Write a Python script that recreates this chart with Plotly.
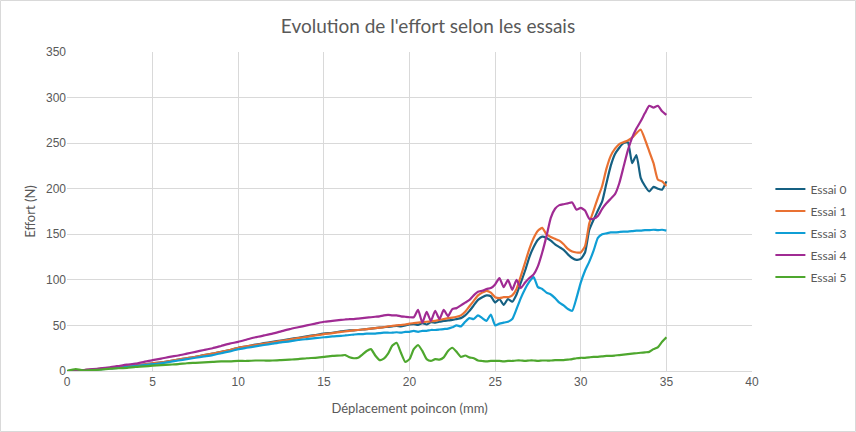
import plotly.graph_objects as go

x = [0, 0.5, 1, 1.5, 2, 2.5, 3, 3.5, 4, 4.5, 5, 5.5, 6, 6.5, 7, 7.5, 8, 8.5, 9, 9.5,
     10, 10.5, 11, 11.5, 12, 12.5, 13, 13.5, 14, 14.5, 15, 15.5,
     16, 16.25, 16.5, 16.75, 17, 17.25, 17.5, 17.75, 18, 18.25, 18.5, 18.75,
     19, 19.25, 19.5, 19.75, 20, 20.25, 20.5, 20.75, 21, 21.25, 21.5, 21.75,
     22, 22.25, 22.5, 22.75, 23, 23.25, 23.5, 23.75, 24, 24.25, 24.5, 24.75,
     25, 25.25, 25.5, 25.75, 26, 26.25, 26.5, 26.75, 27, 27.25, 27.5, 27.75,
     28, 28.25, 28.5, 28.75, 29, 29.25, 29.5, 29.75, 30, 30.25, 30.5, 30.75,
     31, 31.25, 31.5, 31.75, 32, 32.25, 32.5, 32.75, 33, 33.25, 33.5, 33.75,
     34, 34.25, 34.5, 34.75, 35]

essai0 = [0, 0.5, 1, 1.5, 2.5, 3, 4, 5, 6, 7, 8.5, 9.5, 11, 12.5, 14, 15.5, 17.5, 19, 21, 23,
          25.5, 27, 29, 30.5, 32, 33.5, 35, 36.5, 38, 39.5, 41, 42,
          43.5, 44, 44.5, 44.5, 45, 45.5, 46, 46.5, 47, 47.5, 48, 48.5,
          49, 49.5, 49, 50, 51, 51.5, 50.5, 52.5, 51, 53.5, 53, 54,
          55, 55.5, 56, 57, 58, 61, 66, 72, 78, 81, 83, 82,
          75, 79, 72.5, 79, 76, 84, 97, 110, 125, 136, 144, 147.5,
          146, 143, 139, 136, 133, 128, 124, 122, 123, 130, 155, 166,
          176, 186, 206, 225, 238, 245, 250, 251, 228, 237, 212, 203,
          197, 202, 200, 199, 208]

essai1 = [0, 0.5, 1, 1.5, 2.5, 3, 4, 5, 6, 7, 8.5, 9.5, 11, 12.5, 14, 15.5, 17.5, 19, 21, 23,
          25.5, 27, 28.5, 30, 31.5, 33, 34.5, 36, 37.5, 39, 40.5, 41.5,
          43, 43.5, 44, 44.5, 45, 45.5, 46, 46.5, 47, 47.5, 48, 49,
          49.5, 50, 50.5, 51, 52, 52.5, 53, 53.5, 54, 54.5, 55, 56,
          57, 58, 58.5, 59.5, 61, 65, 71, 77, 83, 86, 88, 86,
          81, 80, 81, 81, 83, 90, 104, 119, 134, 146, 154, 157,
          150, 147, 145, 143, 139, 134, 131, 130, 130, 137, 162, 176,
          190, 203, 222, 236, 244, 249, 251, 253, 256, 261, 265, 254,
          241, 228, 210, 208, 203]

essai3 = [0, 0.3, 0.8, 1.3, 2, 2.8, 3.5, 4.5, 5.5, 6.5, 7.5, 8.5, 10, 11.5, 13, 14.5, 16, 17.5, 19.5, 21.5,
          24, 25.5, 27, 28.5, 30, 31.5, 32.5, 34, 35, 36, 37, 38,
          38.5, 39, 39.5, 40, 40.5, 40.5, 41, 41, 41, 41.5, 42, 42,
          42, 42.5, 42, 43, 43, 44, 43, 44, 44, 45, 45, 45.5,
          46, 46.5, 48, 50, 49, 54, 58, 57, 61, 58, 55, 62,
          50, 52, 53, 54, 57, 68, 80, 90, 98, 103, 92, 90,
          86, 84, 80, 75, 72, 68, 66, 80, 97, 110, 120, 132,
          146, 150, 151, 152, 152, 152.5, 153, 153, 153.5, 154, 154, 154.5,
          154.5, 155, 154.5, 155, 154]

essai4 = [0, 0.5, 1, 2, 3, 4, 5.5, 7, 8, 10, 12, 13.5, 15.5, 17, 19, 21, 23, 25, 27.5, 30,
          32, 34.5, 37, 39, 41, 43.5, 46, 48, 50, 52, 54, 55,
          56, 56.5, 57, 57, 57.5, 58, 58.5, 59, 59.5, 60, 61, 61.5,
          61, 61, 60, 59.5, 59, 59, 67, 53, 65, 55, 66, 57,
          67, 60, 68, 69, 72, 75, 78, 83, 87, 88, 90, 91,
          95, 102, 92, 100, 89, 100, 91, 97, 102, 106, 115, 130,
          148, 168, 178, 182, 183, 184, 185, 177, 179, 176, 167, 167,
          170, 178, 184, 189, 194, 206, 224, 242, 256, 266, 274, 283,
          291, 289, 291, 285, 281]

essai5 = [0, 2, 0.5, 1, 1.5, 2.5, 3, 3.5, 4.5, 5, 5.8, 6.5, 7, 7.5, 8.5, 9, 9.5, 10, 10.5, 10.5,
          11, 11, 11.5, 11.5, 11.5, 12, 12.5, 13, 14, 14.5, 15.5, 16.5,
          17, 17.5, 15, 14, 14.5, 18, 22, 24, 17, 12, 13.5, 19,
          28, 31, 20, 10, 13, 24, 28.5, 22, 13, 11, 13, 12.5,
          15, 22, 25.5, 21, 15.5, 17, 15, 14, 11.5, 11, 10.5, 11,
          11, 11, 10.5, 11, 11, 11.5, 11.5, 11, 11.5, 11.5, 11, 11.5,
          11.5, 11.5, 12, 12, 12, 12.5, 13, 14, 14.5, 14.5, 15, 15.5,
          15.5, 16, 16.5, 16.5, 17, 17.5, 18, 18.5, 19, 19.5, 20, 20.5,
          21, 24, 26, 32, 37]

series = [
    ("Essai 0", essai0, "#156082"),
    ("Essai 1", essai1, "#E97132"),
    ("Essai 3", essai3, "#0F9ED5"),
    ("Essai 4", essai4, "#A02B93"),
    ("Essai 5", essai5, "#4EA72E"),
]

fig = go.Figure()
for name, ys, col in series:
    fig.add_trace(go.Scatter(
        x=x, y=ys, name=name, mode="lines", legendgroup=name,
        line=dict(color=col, width=2.2, shape="spline", smoothing=0.5),
    ))

grey = "#595959"
fig.update_layout(
    width=856, height=432,
    margin=dict(l=67, r=104, t=52, b=61, autoexpand=False),
    paper_bgcolor="white", plot_bgcolor="white",
    font=dict(family="Lato, Liberation Sans, Arial", color=grey, size=12),
    title=dict(text="Evolution de l'effort selon les essais",
               x=0.5, xanchor="center", y=0.94, yanchor="middle",
               xref="container",
               font=dict(family="Lato", size=19, color=grey)),
    showlegend=True,
    legend=dict(xref="container", yref="container",
                x=0.9, xanchor="left", y=0.4606, yanchor="middle",
                bgcolor="rgba(0,0,0,0)", tracegroupgap=3,
                font=dict(family="Lato", size=12, color=grey)),
    xaxis=dict(range=[0, 40], dtick=5, tick0=0, showgrid=True, gridcolor="#D9D9D9",
               gridwidth=1, zeroline=False, showline=True, linecolor="#D9D9D9",
               ticks="", tickfont=dict(family="Liberation Sans, Arial", size=12, color=grey),
               title=dict(text="Déplacement poincon (mm)", standoff=15,
                          font=dict(family="Lato", size=13, color=grey))),
    yaxis=dict(range=[0, 350], dtick=50, tick0=0, showgrid=True, gridcolor="#D9D9D9",
               gridwidth=1, zeroline=False, showline=False,
               ticks="", tickfont=dict(family="Liberation Sans, Arial", size=12, color=grey),
               title=dict(text="Effort (N)", standoff=7,
                          font=dict(family="Lato", size=13, color=grey))),
    shapes=[dict(type="rect", xref="paper", yref="paper",
                 x0=(0.5 - 67) / 685, x1=(855.5 - 67) / 685,
                 y0=(371 - 431.5) / 319, y1=(371 - 0.5) / 319,
                 line=dict(color="#D9D9D9", width=1), fillcolor="rgba(0,0,0,0)",
                 layer="below")],
)

fig.write_html("out.html")
